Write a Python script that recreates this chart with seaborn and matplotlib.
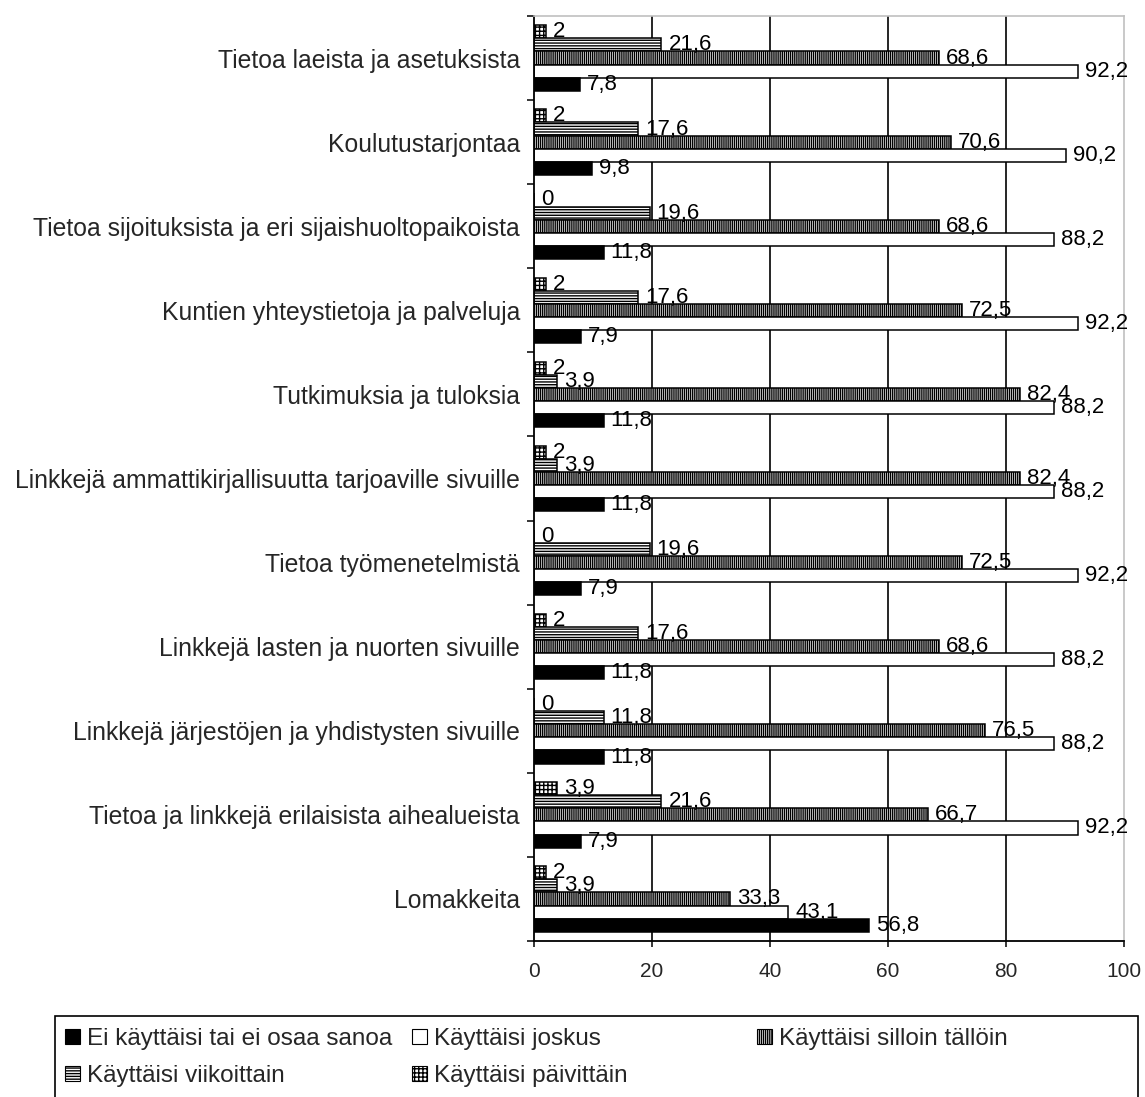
import matplotlib
matplotlib.use("Agg")
import matplotlib.pyplot as plt
from matplotlib.patches import Patch, Rectangle
import numpy as np
import pandas as pd
import seaborn as sns

# Aiheet ylhäältä alas
categories = [
    "Tietoa laeista ja asetuksista",
    "Koulutustarjontaa",
    "Tietoa sijoituksista ja eri sijaishuoltopaikoista",
    "Kuntien yhteystietoja ja palveluja",
    "Tutkimuksia ja tuloksia",
    "Linkkejä ammattikirjallisuutta tarjoaville sivuille",
    "Tietoa työmenetelmistä",
    "Linkkejä lasten ja nuorten sivuille",
    "Linkkejä järjestöjen ja yhdistysten sivuille",
    "Tietoa ja linkkejä erilaisista aihealueista",
    "Lomakkeita",
]

# Osuudet (%) sarjoittain
paivittain = [2, 2, 0, 2, 2, 2, 0, 2, 0, 3.9, 2]
viikoittain = [21.6, 17.6, 19.6, 17.6, 3.9, 3.9, 19.6, 17.6, 11.8, 21.6, 3.9]
silloin_talloin = [68.6, 70.6, 68.6, 72.5, 82.4, 82.4, 72.5, 68.6, 76.5, 66.7, 33.3]
joskus = [92.2, 90.2, 88.2, 92.2, 88.2, 88.2, 92.2, 88.2, 88.2, 92.2, 43.1]
ei_kayttaisi = [7.8, 9.8, 11.8, 7.9, 11.8, 11.8, 7.9, 11.8, 11.8, 7.9, 56.8]

series_names = [
    "Käyttäisi päivittäin",
    "Käyttäisi viikoittain",
    "Käyttäisi silloin tällöin",
    "Käyttäisi joskus",
    "Ei käyttäisi tai ei osaa sanoa",
]
series_values = [paivittain, viikoittain, silloin_talloin, joskus, ei_kayttaisi]
x_ticks = [0, 20, 40, 60, 80, 100]

# Täyttövärit ja rasterit sarjoittain
colors = {
    "Käyttäisi päivittäin": "white",
    "Käyttäisi viikoittain": "white",
    "Käyttäisi silloin tällöin": "white",
    "Käyttäisi joskus": "white",
    "Ei käyttäisi tai ei osaa sanoa": "black",
}
hatches = {
    "Käyttäisi päivittäin": "++++",
    "Käyttäisi viikoittain": "------",
    "Käyttäisi silloin tällöin": "||||||||",
    "Käyttäisi joskus": "",
    "Ei käyttäisi tai ei osaa sanoa": "",
}

rows = []
for name, vals in zip(series_names, series_values):
    for cat, v in zip(categories, vals):
        rows.append({"Aihe": cat, "Osuus": v, "Sarja": name})
df = pd.DataFrame(rows)

sns.set_style("white")
plt.rcParams["font.family"] = ["Liberation Sans", "DejaVu Sans"]
plt.rcParams["hatch.linewidth"] = 1.0
plt.rcParams["hatch.color"] = "black"

W, H = 1145, 1097
fig = plt.figure(figsize=(W / 100, H / 100), dpi=100)
ax = fig.add_axes([534 / W, 1 - 941 / H, 590 / W, 925 / H])

sns.barplot(
    data=df, y="Aihe", x="Osuus", hue="Sarja",
    order=categories, hue_order=series_names, orient="h",
    palette=colors, saturation=1, width=0.78,
    edgecolor="black", linewidth=1.1, legend=False, ax=ax,
)


def fmt(v):
    return str(int(v)) if float(v).is_integer() else f"{v:.1f}".replace(".", ",")


for name, vals, cont in zip(series_names, series_values, ax.containers):
    for bar in cont:
        bar.set_hatch(hatches[name])
        bar.set_zorder(2)
    ax.bar_label(cont, labels=[fmt(v) for v in vals], padding=5,
                 fontsize=16, color="black")

ax.set_xlim(0, 100)
ax.set_ylim(len(categories) - 0.5, -0.5)
ax.set_xticks(x_ticks)
ax.set_xticklabels([str(t) for t in x_ticks], fontsize=15)
ax.set_yticks(range(len(categories)))
ax.set_yticklabels(categories, fontsize=17.8)
ax.set_yticks(np.arange(-0.5, len(categories), 1), minor=True)
ax.set_xlabel("")
ax.set_ylabel("")

ax.tick_params(axis="y", which="major", left=False, length=0, pad=10)
ax.tick_params(axis="y", which="minor", left=True, length=5, width=1.1,
               direction="out", color="black")
ax.tick_params(axis="x", which="major", bottom=True, length=4, width=1.1,
               direction="out", color="black", pad=11)

ax.set_axisbelow(True)
ax.xaxis.grid(True, color="black", linewidth=1.2)
ax.yaxis.grid(False)
gl = ax.get_xgridlines()
gl[0].set_visible(False)
gl[-1].set_visible(False)

for side in ("top", "right"):
    ax.spines[side].set_color("#c0c0c0")
    ax.spines[side].set_linewidth(1.2)
for side in ("left", "bottom"):
    ax.spines[side].set_color("black")
    ax.spines[side].set_linewidth(1.3)

# Selite kolmessa sarakkeessa, rivit vasemmalta oikealle
handle_for = {
    n: Patch(facecolor=colors[n], edgecolor="black", hatch=hatches[n], linewidth=0.8)
    for n in series_names
}
columns = [
    (65, ["Ei käyttäisi tai ei osaa sanoa", "Käyttäisi viikoittain"]),
    (412, ["Käyttäisi joskus", "Käyttäisi päivittäin"]),
    (757, ["Käyttäisi silloin tällöin"]),
]
for x0, names in columns:
    fig.legend(
        [handle_for[n] for n in names], names,
        loc="upper left", bbox_to_anchor=(x0 / W, 1 - 1028 / H),
        frameon=False, borderpad=0, borderaxespad=0,
        handlelength=0.6, handleheight=0.6, handletextpad=0.3,
        labelspacing=0.62, fontsize=17.5,
    )

top = 1 - 1016 / H
fig.patches.append(Rectangle((55 / W, -0.05), (1138 - 55) / W, top + 0.05,
                             transform=fig.transFigure, fill=False,
                             edgecolor="black", linewidth=1.2))

fig.savefig("out.png", dpi=100)
